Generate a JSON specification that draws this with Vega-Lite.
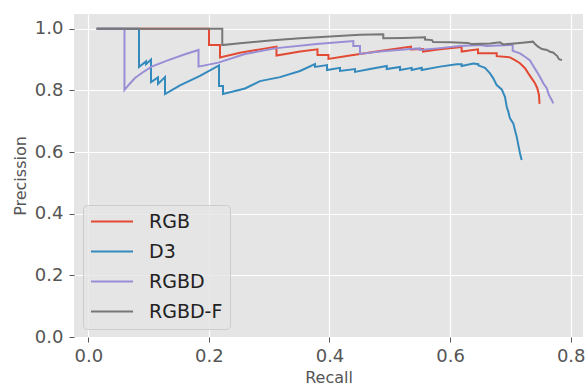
{
  "$schema": "https://vega.github.io/schema/vega-lite/v6.json",
  "width": 509,
  "height": 323,
  "autosize": {"type": "none"},
  "padding": {"left": 74, "top": 14, "right": 3, "bottom": 48},
  "background": "white",
  "data": {"values": [
    {"s":"RGB","i":0,"r":0.0138,"p":1.0},{"s":"RGB","i":1,"r":0.2002,"p":1.0},{"s":"RGB","i":2,"r":0.2002,"p":0.947},{"s":"RGB","i":3,"r":0.2184,"p":0.947},{"s":"RGB","i":4,"r":0.2184,"p":0.907},{"s":"RGB","i":5,"r":0.2516,"p":0.922},{"s":"RGB","i":6,"r":0.2847,"p":0.933},{"s":"RGB","i":7,"r":0.3121,"p":0.942},{"s":"RGB","i":8,"r":0.3121,"p":0.913},{"s":"RGB","i":9,"r":0.3513,"p":0.926},{"s":"RGB","i":10,"r":0.3801,"p":0.933},{"s":"RGB","i":11,"r":0.3801,"p":0.915},{"s":"RGB","i":12,"r":0.3983,"p":0.915},{"s":"RGB","i":13,"r":0.3983,"p":0.902},{"s":"RGB","i":14,"r":0.4340,"p":0.913},{"s":"RGB","i":15,"r":0.4838,"p":0.928},{"s":"RGB","i":16,"r":0.5352,"p":0.942},{"s":"RGB","i":17,"r":0.5352,"p":0.933},{"s":"RGB","i":18,"r":0.5551,"p":0.934},{"s":"RGB","i":19,"r":0.5551,"p":0.926},{"s":"RGB","i":20,"r":0.5833,"p":0.933},{"s":"RGB","i":21,"r":0.6192,"p":0.941},{"s":"RGB","i":22,"r":0.6192,"p":0.926},{"s":"RGB","i":23,"r":0.6463,"p":0.933},{"s":"RGB","i":24,"r":0.6463,"p":0.920},{"s":"RGB","i":25,"r":0.6773,"p":0.920},{"s":"RGB","i":26,"r":0.6773,"p":0.911},{"s":"RGB","i":27,"r":0.6993,"p":0.907},{"s":"RGB","i":28,"r":0.7076,"p":0.898},{"s":"RGB","i":29,"r":0.7159,"p":0.888},{"s":"RGB","i":30,"r":0.7242,"p":0.872},{"s":"RGB","i":31,"r":0.7297,"p":0.855},{"s":"RGB","i":32,"r":0.7353,"p":0.839},{"s":"RGB","i":33,"r":0.7408,"p":0.823},{"s":"RGB","i":34,"r":0.7446,"p":0.807},{"s":"RGB","i":35,"r":0.7474,"p":0.785},{"s":"RGB","i":36,"r":0.7483,"p":0.756},

    {"s":"D3","i":0,"r":0.0138,"p":1.0},{"s":"D3","i":1,"r":0.0841,"p":1.0},{"s":"D3","i":2,"r":0.0841,"p":0.876},{"s":"D3","i":3,"r":0.0957,"p":0.894},{"s":"D3","i":4,"r":0.0957,"p":0.885},{"s":"D3","i":5,"r":0.1040,"p":0.900},{"s":"D3","i":6,"r":0.1040,"p":0.827},{"s":"D3","i":7,"r":0.1156,"p":0.842},{"s":"D3","i":8,"r":0.1156,"p":0.821},{"s":"D3","i":9,"r":0.1272,"p":0.843},{"s":"D3","i":10,"r":0.1272,"p":0.788},{"s":"D3","i":11,"r":0.1521,"p":0.816},{"s":"D3","i":12,"r":0.1852,"p":0.847},{"s":"D3","i":13,"r":0.2168,"p":0.881},{"s":"D3","i":14,"r":0.2168,"p":0.814},{"s":"D3","i":15,"r":0.2234,"p":0.814},{"s":"D3","i":16,"r":0.2234,"p":0.788},{"s":"D3","i":17,"r":0.2599,"p":0.806},{"s":"D3","i":18,"r":0.2847,"p":0.830},{"s":"D3","i":19,"r":0.3179,"p":0.843},{"s":"D3","i":20,"r":0.3511,"p":0.863},{"s":"D3","i":21,"r":0.3760,"p":0.885},{"s":"D3","i":22,"r":0.3760,"p":0.876},{"s":"D3","i":23,"r":0.3959,"p":0.882},{"s":"D3","i":24,"r":0.3959,"p":0.866},{"s":"D3","i":25,"r":0.4174,"p":0.873},{"s":"D3","i":26,"r":0.4174,"p":0.863},{"s":"D3","i":27,"r":0.4423,"p":0.869},{"s":"D3","i":28,"r":0.4423,"p":0.860},{"s":"D3","i":29,"r":0.4672,"p":0.869},{"s":"D3","i":30,"r":0.4949,"p":0.879},{"s":"D3","i":31,"r":0.4949,"p":0.869},{"s":"D3","i":32,"r":0.5169,"p":0.876},{"s":"D3","i":33,"r":0.5169,"p":0.866},{"s":"D3","i":34,"r":0.5363,"p":0.873},{"s":"D3","i":35,"r":0.5363,"p":0.866},{"s":"D3","i":36,"r":0.5529,"p":0.873},{"s":"D3","i":37,"r":0.5529,"p":0.866},{"s":"D3","i":38,"r":0.5833,"p":0.877},{"s":"D3","i":39,"r":0.6109,"p":0.885},{"s":"D3","i":40,"r":0.6192,"p":0.885},{"s":"D3","i":41,"r":0.6192,"p":0.879},{"s":"D3","i":42,"r":0.6385,"p":0.887},{"s":"D3","i":43,"r":0.6468,"p":0.885},{"s":"D3","i":44,"r":0.6468,"p":0.881},{"s":"D3","i":45,"r":0.6579,"p":0.873},{"s":"D3","i":46,"r":0.6662,"p":0.855},{"s":"D3","i":47,"r":0.6716,"p":0.839},{"s":"D3","i":48,"r":0.6773,"p":0.817},{"s":"D3","i":49,"r":0.6856,"p":0.803},{"s":"D3","i":50,"r":0.6910,"p":0.779},{"s":"D3","i":51,"r":0.6939,"p":0.747},{"s":"D3","i":52,"r":0.6965,"p":0.731},{"s":"D3","i":53,"r":0.6993,"p":0.709},{"s":"D3","i":54,"r":0.7048,"p":0.693},{"s":"D3","i":55,"r":0.7076,"p":0.671},{"s":"D3","i":56,"r":0.7104,"p":0.650},{"s":"D3","i":57,"r":0.7131,"p":0.623},{"s":"D3","i":58,"r":0.7159,"p":0.596},{"s":"D3","i":59,"r":0.7187,"p":0.574},

    {"s":"RGBD","i":0,"r":0.0138,"p":1.0},{"s":"RGBD","i":1,"r":0.0600,"p":1.0},{"s":"RGBD","i":2,"r":0.0600,"p":0.801},{"s":"RGBD","i":3,"r":0.0680,"p":0.820},{"s":"RGBD","i":4,"r":0.0774,"p":0.840},{"s":"RGBD","i":5,"r":0.0900,"p":0.858},{"s":"RGBD","i":6,"r":0.1051,"p":0.877},{"s":"RGBD","i":7,"r":0.1327,"p":0.898},{"s":"RGBD","i":8,"r":0.1604,"p":0.917},{"s":"RGBD","i":9,"r":0.1828,"p":0.931},{"s":"RGBD","i":10,"r":0.1828,"p":0.877},{"s":"RGBD","i":11,"r":0.2156,"p":0.890},{"s":"RGBD","i":12,"r":0.2599,"p":0.918},{"s":"RGBD","i":13,"r":0.3124,"p":0.937},{"s":"RGBD","i":14,"r":0.3788,"p":0.950},{"s":"RGBD","i":15,"r":0.4395,"p":0.960},{"s":"RGBD","i":16,"r":0.4395,"p":0.944},{"s":"RGBD","i":17,"r":0.4506,"p":0.944},{"s":"RGBD","i":18,"r":0.4506,"p":0.918},{"s":"RGBD","i":19,"r":0.4838,"p":0.926},{"s":"RGBD","i":20,"r":0.5335,"p":0.934},{"s":"RGBD","i":21,"r":0.5501,"p":0.936},{"s":"RGBD","i":22,"r":0.5501,"p":0.931},{"s":"RGBD","i":23,"r":0.5833,"p":0.937},{"s":"RGBD","i":24,"r":0.6164,"p":0.944},{"s":"RGBD","i":25,"r":0.6496,"p":0.947},{"s":"RGBD","i":26,"r":0.6607,"p":0.944},{"s":"RGBD","i":27,"r":0.6993,"p":0.947},{"s":"RGBD","i":28,"r":0.7038,"p":0.947},{"s":"RGBD","i":29,"r":0.7038,"p":0.928},{"s":"RGBD","i":30,"r":0.7159,"p":0.920},{"s":"RGBD","i":31,"r":0.7242,"p":0.909},{"s":"RGBD","i":32,"r":0.7325,"p":0.897},{"s":"RGBD","i":33,"r":0.7380,"p":0.879},{"s":"RGBD","i":34,"r":0.7436,"p":0.861},{"s":"RGBD","i":35,"r":0.7491,"p":0.843},{"s":"RGBD","i":36,"r":0.7546,"p":0.823},{"s":"RGBD","i":37,"r":0.7602,"p":0.807},{"s":"RGBD","i":38,"r":0.7640,"p":0.785},{"s":"RGBD","i":39,"r":0.7685,"p":0.769},{"s":"RGBD","i":40,"r":0.7711,"p":0.758},

    {"s":"RGBD-F","i":0,"r":0.0138,"p":1.0},{"s":"RGBD-F","i":1,"r":0.2222,"p":1.0},{"s":"RGBD-F","i":2,"r":0.2222,"p":0.947},{"s":"RGBD-F","i":3,"r":0.2516,"p":0.953},{"s":"RGBD-F","i":4,"r":0.3013,"p":0.962},{"s":"RGBD-F","i":5,"r":0.3510,"p":0.969},{"s":"RGBD-F","i":6,"r":0.4008,"p":0.975},{"s":"RGBD-F","i":7,"r":0.4506,"p":0.980},{"s":"RGBD-F","i":8,"r":0.4892,"p":0.982},{"s":"RGBD-F","i":9,"r":0.4892,"p":0.969},{"s":"RGBD-F","i":10,"r":0.5236,"p":0.970},{"s":"RGBD-F","i":11,"r":0.5584,"p":0.972},{"s":"RGBD-F","i":12,"r":0.5584,"p":0.965},{"s":"RGBD-F","i":13,"r":0.5700,"p":0.963},{"s":"RGBD-F","i":14,"r":0.5717,"p":0.957},{"s":"RGBD-F","i":15,"r":0.5998,"p":0.956},{"s":"RGBD-F","i":16,"r":0.6297,"p":0.954},{"s":"RGBD-F","i":17,"r":0.6363,"p":0.950},{"s":"RGBD-F","i":18,"r":0.6662,"p":0.952},{"s":"RGBD-F","i":19,"r":0.6828,"p":0.956},{"s":"RGBD-F","i":20,"r":0.6877,"p":0.949},{"s":"RGBD-F","i":21,"r":0.7159,"p":0.954},{"s":"RGBD-F","i":22,"r":0.7375,"p":0.958},{"s":"RGBD-F","i":23,"r":0.7408,"p":0.950},{"s":"RGBD-F","i":24,"r":0.7458,"p":0.942},{"s":"RGBD-F","i":25,"r":0.7524,"p":0.934},{"s":"RGBD-F","i":26,"r":0.7607,"p":0.931},{"s":"RGBD-F","i":27,"r":0.7657,"p":0.925},{"s":"RGBD-F","i":28,"r":0.7707,"p":0.923},{"s":"RGBD-F","i":29,"r":0.7773,"p":0.912},{"s":"RGBD-F","i":30,"r":0.7806,"p":0.901},{"s":"RGBD-F","i":31,"r":0.7856,"p":0.898}
  ]},
  "mark": {"type": "line", "strokeWidth": 2, "clip": true},
  "encoding": {
    "x": {
      "field": "r", "type": "quantitative",
      "scale": {"domain": [-0.0237, 0.8204], "nice": false, "zero": false},
      "axis": {"title": "Recall", "values": [0, 0.2, 0.4, 0.6, 0.8], "format": ".1f",
               "labelPadding": 5, "titleY": 45, "titleBaseline": "alphabetic"}
    },
    "y": {
      "field": "p", "type": "quantitative",
      "scale": {"domain": [0, 1.0477], "nice": false, "zero": false},
      "axis": {"title": "Precission", "values": [0, 0.2, 0.4, 0.6, 0.8, 1.0], "format": ".1f",
               "labelPadding": 6, "titleX": -49, "titleY": 161.5, "titleAngle": -90, "titleBaseline": "alphabetic", "titleAlign": "center"}
    },
    "color": {
      "field": "s", "type": "nominal",
      "scale": {"domain": ["RGB", "D3", "RGBD", "RGBD-F"], "range": ["#E24A33", "#348ABD", "#988ED5", "#777777"]},
      "legend": {"title": null, "orient": "none", "legendX": 9, "legendY": 191}
    },
    "order": {"field": "i", "type": "quantitative"}
  },
  "config": {
    "view": {"fill": "#E5E5E5", "stroke": null},
    "axis": {
      "domain": false, "grid": true, "gridColor": "#FFFFFF", "gridWidth": 1.2, "gridOpacity": 1,
      "ticks": true, "tickColor": "#555555", "tickSize": 5, "tickWidth": 1,
      "labelColor": "#555555", "labelFont": "DejaVu Sans", "labelFontSize": 18,
      "labelFlush": false, "labelOverlap": false,
      "titleColor": "#555555", "titleFont": "DejaVu Sans", "titleFontSize": 16, "titleFontWeight": "normal"
    },
    "legend": {
      "symbolType": "stroke", "symbolSize": 1764, "symbolStrokeWidth": 2,
      "clipHeight": 19,
      "labelFont": "DejaVu Sans", "labelFontSize": 19, "labelColor": "#222222",
      "labelOffset": 15, "rowPadding": 10, "padding": 7,
      "fillColor": "rgba(229,229,229,0.8)", "strokeColor": "#CCCCCC", "cornerRadius": 4
    }
  }
}
